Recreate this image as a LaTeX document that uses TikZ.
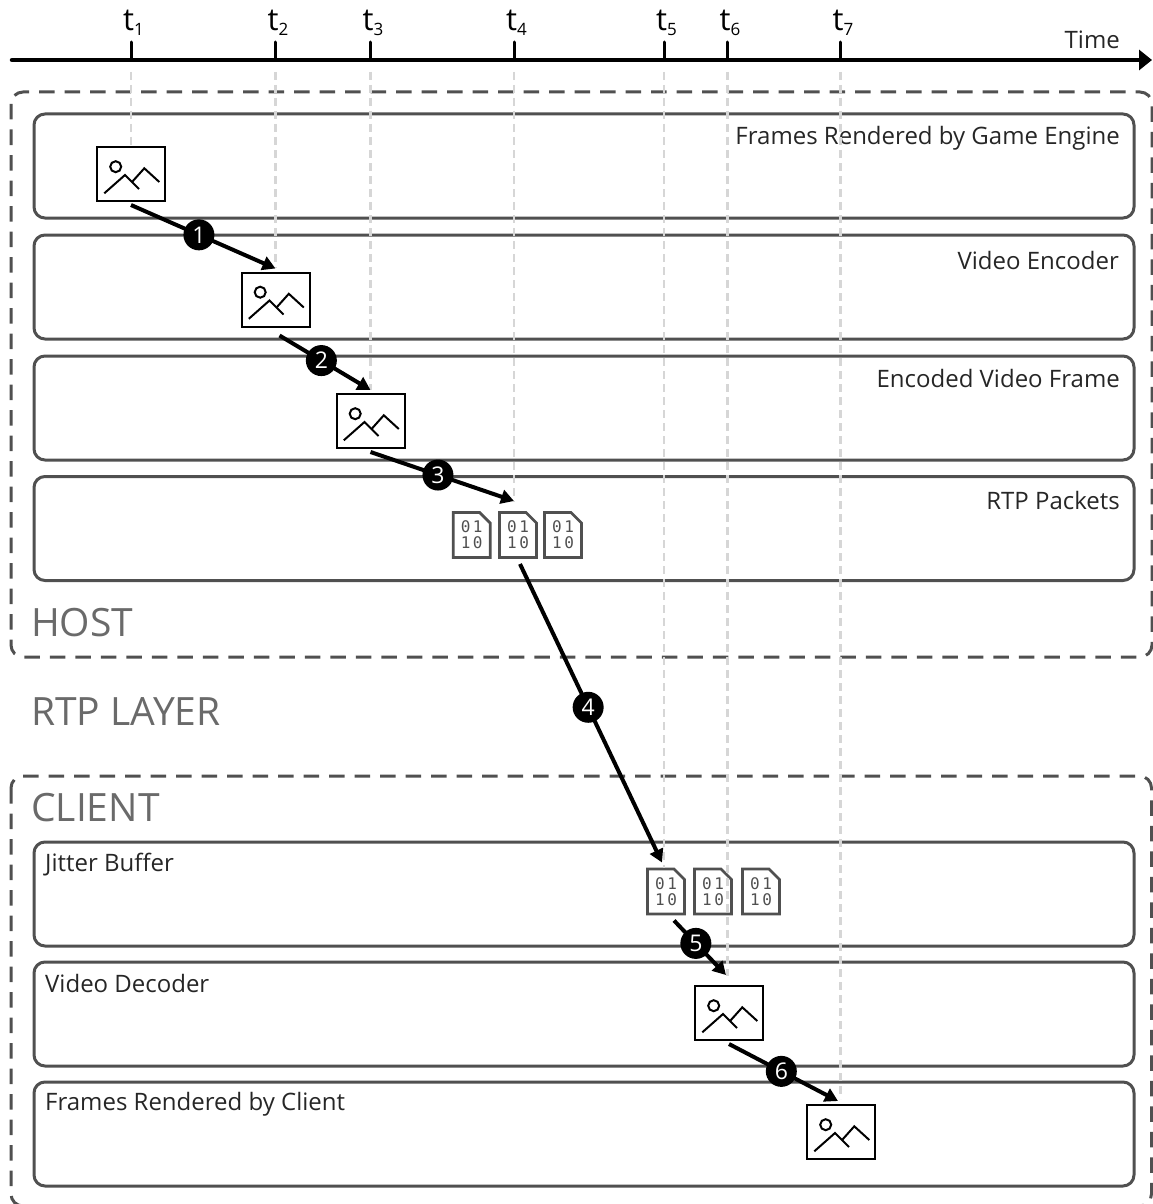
\documentclass[tikz,border=0pt]{standalone}
\usepackage{fontspec}
\setmainfont{Open Sans}
\newfontfamily\pktfont[LetterSpace=16]{DejaVu Sans Mono}
\usetikzlibrary{arrows.meta, positioning, calc}
\definecolor{edgegray}{HTML}{505050}
\definecolor{gridgray}{HTML}{D6D6D6}

\tikzset{
framebox/.style={rectangle, draw=black, line width=2pt, fill=white, minimum width=68pt, minimum height=54pt, inner sep=0pt, outer sep=4pt},
packetbox/.style={rectangle, minimum width=38pt, minimum height=46pt, inner sep=0pt, outer sep=6pt},
frameicon/.pic={
  \node[framebox] (-box) {};
  \draw[black, line width=2pt] (-15.3,-7.3) circle (5.5pt);
  \draw[black, line width=2pt] (-26.7,19.3) -- (-6,1) -- (8,15);
  \draw[black, line width=2pt] (1.3,7.7) -- (13.3,-5.7) -- (28.3,8);
},
packeticon/.pic={
  \node[packetbox, font=\pktfont\fontsize{16pt}{16pt}\selectfont, text=edgegray, align=center] (-box) {01\\10};
  \draw[edgegray, line width=2.8pt, line join=miter] (-18.5,-22.5) -- (8,-22.5) -- (18.5,-12) -- (18.5,22.5) -- (-18.5,22.5) -- cycle;
}
}

\begin{document}
\begin{tikzpicture}[
x=1pt, y=-1pt,
font=\fontsize{24pt}{26pt}\selectfont,
lane/.style={rectangle, draw=edgegray, line width=3pt, rounded corners=11pt, minimum width=1100pt, minimum height=104pt, anchor=north west, inner sep=0pt},
group/.style={draw=edgegray, line width=3pt, rounded corners=12pt, dash pattern=on 15.5pt off 10pt},
lanetext/.style={text=black!85, inner sep=0pt},
bigtext/.style={text=edgegray!85, inner sep=0pt, anchor=base west, font=\fontsize{39pt}{42pt}\selectfont},
ticktext/.style={inner sep=0pt, anchor=base west, font=\fontsize{31pt}{32pt}\selectfont},
guide/.style={gridgray, line width=2.2pt, dash pattern=on 8pt off 5pt},
arrow/.style={-{Triangle[length=13pt,width=14pt]}, black, line width=4pt},
numdot/.style={circle, fill=black, text=white, minimum size=31pt, inner sep=0pt, font=\fontsize{23pt}{23pt}\selectfont}
]
\useasboundingbox (0,0) rectangle (1152,1204);

\coordinate (axisstart) at (12,60);
\coordinate (axisend) at (1152,60);

\draw[group] (11,92) rectangle (1152,657);
\draw[group] (11,776) rectangle (1151.5,1206);

\node[lane] (rendered) at (32.5,112.5) {};
\node[lane] (encoder) at (32.5,233.5) {};
\node[lane] (encoded) at (32.5,354.5) {};
\node[lane] (rtp) at (32.5,475) {};
\node[lane] (jitter) at (32.5,840.5) {};
\node[lane] (decoder) at (32.5,960.5) {};
\node[lane] (display) at (32.5,1080.5) {};

\node[lanetext, anchor=base east] (renderedtext) at (1120,145) {Frames Rendered by Game Engine};
\node[lanetext, anchor=base east] (encodertext) at (1119,269) {Video Encoder};
\node[lanetext, anchor=base east] (encodedtext) at (1120,387) {Encoded Video Frame};
\node[lanetext, anchor=base east] (rtptext) at (1120,509) {RTP Packets};
\node[lanetext, anchor=base west] (jittertext) at (45,871) {Jitter Buffer};
\node[lanetext, anchor=base west] (decodertext) at (45,992) {Video Decoder};
\node[lanetext, anchor=base west] (displaytext) at (45,1110) {Frames Rendered by Client};

\node[bigtext] (host) at (31,636) {HOST};
\node[bigtext] (rtplayer) at (31,725) {RTP LAYER};
\node[bigtext] (client) at (31,821) {CLIENT};

\pic (f1) at (131,174) {frameicon};
\pic (f2) at (275.5,299.5) {frameicon};
\pic (f3) at (370.5,421) {frameicon};
\pic (p1) at (471.7,535) {packeticon};
\pic (p2) at (518,535) {packeticon};
\pic (p3) at (563,535) {packeticon};
\pic (p4) at (666,891.5) {packeticon};
\pic (p5) at (713,891.5) {packeticon};
\pic (p6) at (761,891.5) {packeticon};
\pic (f4) at (729,1013) {frameicon};
\pic (f5) at (841,1132) {frameicon};

\foreach \x/\n/\e in {131/1/147, 275.5/2/268, 370.5/3/390, 514/4/502, 664/5/868, 727.5/6/976, 840.5/7/1099} {
  \coordinate (tick\n) at (\x,42);
  \coordinate (base\n) at (\x,60);
  \coordinate (end\n) at (\x,\e);
  \draw[guide] ([yshift=-12pt]base\n) -- (end\n);
  \draw[black, line width=3pt, line cap=round] (tick\n) -- (base\n);
  \node[ticktext] (label\n) at (\x-8,31) {t\raisebox{-5pt}{\fontsize{17pt}{17pt}\selectfont\n}};
}

\draw[-{Triangle[length=13pt,width=20pt]}, black, line width=4.5pt, line cap=round] (axisstart) -- (axisend);
\node[inner sep=0pt, anchor=base east, text=black!85] (time) at (1120,49) {Time};

\draw[arrow] (f1-box.south) -- node[numdot, pos=0.47] (n1) {1} (f2-box.north);
\draw[arrow] ([shift={(4pt,-5pt)}]f2-box.south) -- node[numdot, pos=0.46] (n2) {2} (f3-box.north);
\draw[arrow] (f3-box.south) -- node[numdot, pos=0.47] (n3) {3} ([shift={(-4pt,5pt)}]p2-box.north);
\draw[arrow] ([xshift=2pt]p2-box.south) -- node[numdot, pos=0.48] (n4) {4} ([xshift=-4pt]p4-box.north);
\draw[arrow] ([xshift=8pt]p4-box.south) -- node[numdot, pos=0.42] (n5) {5} ([shift={(-3pt,7pt)}]f4-box.north);
\draw[arrow] (f4-box.south) -- node[numdot, pos=0.48] (n6) {6} ([xshift=-3pt]f5-box.north);
\end{tikzpicture}
\end{document}
